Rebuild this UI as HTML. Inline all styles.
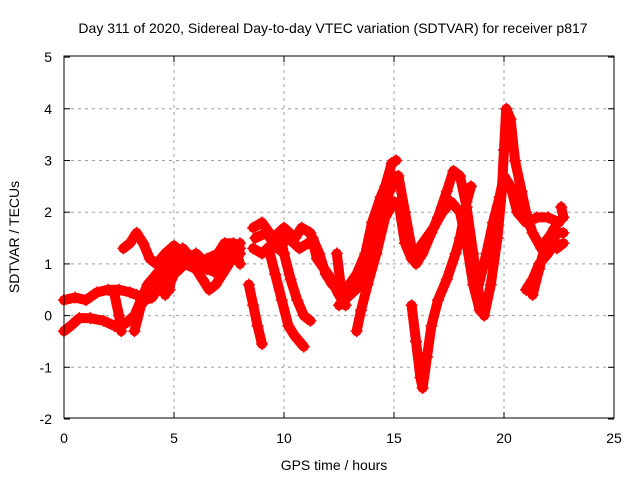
<!DOCTYPE html>
<html><head><meta charset="utf-8"><style>
body{margin:0;background:#fff}
svg text{font-family:"Liberation Sans",sans-serif;font-size:14px;fill:#000}
</style></head><body>
<svg width="640" height="480" xmlns="http://www.w3.org/2000/svg">
<text x="333" y="33" text-anchor="middle">Day 311 of 2020, Sidereal Day-to-day VTEC variation (SDTVAR) for receiver p817</text>
<text x="334" y="470" text-anchor="middle">GPS time / hours</text>
<text transform="translate(19,237) rotate(-90)" text-anchor="middle">SDTVAR / TECUs</text>
<g id="grid"></g>
<g id="ticks"></g>
<g id="marks"></g>
<rect x="64" y="56" width="550" height="362" fill="none" stroke="#000" stroke-width="1"/>
</svg>
<script>
const xTicks=[0,5,10,15,20,25];
const yTicks=[-2,-1,0,1,2,3,4,5];
const tracks=[
[[0,-0.3],[0.3,-0.2],[0.7,-0.05],[1.2,-0.05],[1.8,-0.1],[2.3,-0.2],[2.8,-0.15],[3.2,0],[3.5,0.3],[3.8,0.6],[4.2,0.8],[4.6,1.0],[5,1.2],[5.4,1.3],[5.8,1.1]],
[[0,0.3],[0.5,0.35],[1,0.3],[1.5,0.45],[2,0.5],[2.5,0.5],[3,0.45],[3.3,0.4],[3.7,0.3],[4,0.35],[4.4,0.6],[4.8,0.9],[5.2,1.1],[5.6,1.2],[6,1.1],[6.5,0.9],[6.8,0.85],[7.2,1.0],[7.6,1.3],[8,1.2]],
[[2.7,1.3],[3.0,1.4],[3.3,1.6],[3.6,1.4],[3.9,1.1],[4.2,1.0],[4.6,1.2],[5,1.35],[5.4,1.2]],
[[3.2,-0.3],[3.5,0.2],[4,0.5],[4.5,0.8],[5,1.1]],
[[5.5,1.0],[6,0.9],[6.3,0.7],[6.6,0.5],[6.9,0.6],[7.2,0.8],[7.5,1.0],[7.8,1.2],[8,1.3]],
[[6,1.0],[6.5,1.1],[7,1.2],[7.3,1.4],[7.7,1.4],[8,1.0]],
[[4.6,0.4],[5,0.8],[5.5,1.0],[6,1.2],[6.5,1.0],[7,1.0],[7.5,1.2],[8,1.4]],
[[2.3,0.4],[2.5,0],[2.6,-0.3]],
[[4.8,0.5],[4.9,0.9],[5.1,1.2]],
[[8.4,0.6],[8.6,0.2],[8.8,-0.2],[9,-0.55]],
[[8.6,1.7],[9,1.8],[9.5,1.5],[10,1.7],[10.5,1.5],[10.8,1.7],[11.2,1.6],[11.5,1.1],[12,0.8],[12.5,0.4],[12.8,0.2]],
[[8.6,1.3],[9,1.2],[9.5,1.4],[10,1.2]],
[[8.7,1.5],[9.2,1.6],[9.7,1.3],[10.2,1.5],[10.7,1.3],[11.1,1.4]],
[[9.3,1.3],[9.6,0.8],[9.9,0.3],[10.2,-0.2],[10.5,-0.4],[10.9,-0.6]],
[[9.8,1.6],[10,1.2],[10.3,0.7],[10.6,0.3],[10.9,0.0],[11.2,-0.1]],
[[11.3,1.5],[11.6,1.2],[11.9,0.8],[12.2,0.6]],
[[12.4,1.2],[12.6,0.5],[12.8,0.2]],
[[12.5,0.2],[13,0.4],[13.5,0.6],[14,1.2],[14.3,1.9],[14.6,2.5],[14.9,2.95],[15.1,3.0]],
[[13.6,0.9],[14,1.5],[14.4,2.0],[14.8,2.4],[15.0,2.6]],
[[12.8,0.5],[13.3,0.8],[13.7,1.2],[14,1.8],[14.4,2.3],[14.8,2.7],[15.2,2.7],[15.5,2.0],[15.8,1.3],[16,1.0],[16.3,1.2],[16.7,1.6],[17,1.9],[17.4,2.4],[17.7,2.8],[18,2.7],[18.3,2.1],[18.6,1.2],[18.9,0.3],[19.1,0],[19.4,0.6],[19.7,1.5],[19.9,2.4],[20,3.2],[20.1,4.0],[20.3,3.8],[20.5,3.0],[20.8,2.4],[21,2.0],[21.3,1.6],[21.7,1.3],[22,1.5],[22.4,1.3],[22.7,1.4]],
[[13.3,-0.3],[13.5,0.1],[13.8,0.6],[14.2,1.2],[14.6,1.9],[15,2.2]],
[[15.2,2.2],[15.5,1.4],[15.8,1.1],[16.3,1.4],[16.8,1.7],[17.2,2.0],[17.6,2.2],[18,2.0],[18.3,1.4],[18.6,0.6],[18.9,0.1]],
[[15.8,0.2],[16,-0.5],[16.2,-1.2],[16.3,-1.4],[16.5,-0.8],[16.7,-0.2],[17,0.3],[17.4,0.7],[17.8,1.2],[18,1.5],[18.3,2.2],[18.5,2.5]],
[[18.8,0.5],[19.2,1.2],[19.5,1.8],[19.8,2.3],[20,2.7],[20.3,2.5],[20.6,2.0],[21,1.8],[21.5,1.9],[22,1.9],[22.5,1.8]],
[[21,0.5],[21.3,0.7],[21.6,1.0],[22,1.2],[22.4,1.6],[22.7,1.6]],
[[21.3,0.4],[21.6,0.9],[21.9,1.4],[22.3,1.7]],
[[22.6,2.1],[22.7,1.9]]
];
const NS="http://www.w3.org/2000/svg";
const X=h=>64+h*22;
const Y=v=>315.6-v*51.7;
const grid=document.getElementById('grid'),ticks=document.getElementById('ticks'),marks=document.getElementById('marks');
function mk(tag,attrs,parent){const e=document.createElementNS(NS,tag);for(const k in attrs)e.setAttribute(k,attrs[k]);parent.appendChild(e);return e;}
xTicks.forEach(t=>{
  if(t>0&&t<25){const g=mk('line',{x1:X(t),x2:X(t),y1:56,y2:418,stroke:'#a0a0a0','stroke-dasharray':'3,4'},grid);
  
  }
  mk('line',{x1:X(t),x2:X(t),y1:418,y2:412,stroke:'#000'},ticks);
  mk('line',{x1:X(t),x2:X(t),y1:56,y2:62,stroke:'#000'},ticks);
  const l=mk('text',{x:X(t),y:443,'text-anchor':'middle'},ticks);l.textContent=t;
  
  
});
yTicks.forEach(t=>{
  if(t>-2&&t<5){const g=mk('line',{x1:64,x2:614,y1:Y(t),y2:Y(t),stroke:'#a0a0a0','stroke-dasharray':'3,4'},grid);
  
  }
  mk('line',{x1:64,x2:70,y1:Y(t),y2:Y(t),stroke:'#000'},ticks);
  mk('line',{x1:614,x2:608,y1:Y(t),y2:Y(t),stroke:'#000'},ticks);
  const l=mk('text',{x:52,y:Y(t)+5,'text-anchor':'end'},ticks);l.textContent=t;
  
  
});
tracks.forEach(tr=>{
  const p=mk('polyline',{points:tr.map(d=>X(d[0])+','+Y(d[1])).join(' '),fill:'none',stroke:'#f00','stroke-width':10,'stroke-linejoin':'round','stroke-linecap':'round'},marks);
  
  
  tr.forEach(d=>{
    const x=X(d[0]),y=Y(d[1]);
    const m=mk('path',{d:`M${x-6},${y}h12M${x},${y-6}v12`,stroke:'#f00','stroke-width':1.5},marks);
    
    
  });
});
</script>
</body></html>
